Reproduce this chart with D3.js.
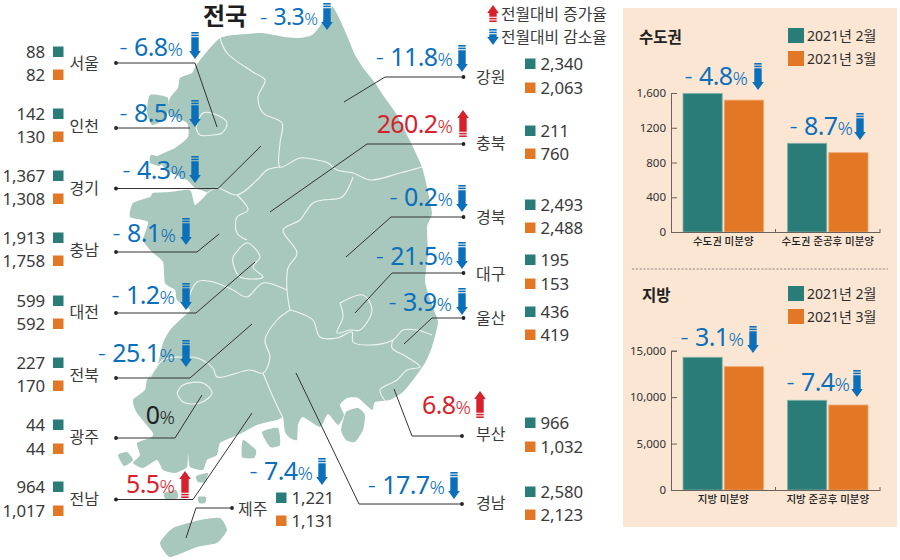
<!DOCTYPE html>
<html><head><meta charset="utf-8">
<script src="https://cdn.jsdelivr.net/npm/d3@7"></script>
<style>
html,body{margin:0;padding:0;background:#fff}
svg{display:block}
text{font-family:"Noto Sans","Noto Sans CJK KR",sans-serif}
</style></head><body>
<svg id="c" width="900" height="560"></svg>
<script>
// ---------- data ----------
const regionNames = ["서울","인천","경기","충남","대전","전북","광주","전남","제주","강원","충북","경북","대구","울산","부산","경남"];
const feb2021 = [88,142,1367,1913,599,227,44,964,1221,2340,211,2493,195,436,966,2580];
const mar2021 = [82,130,1308,1758,592,170,44,1017,1131,2063,760,2488,153,419,1032,2123];
const changePct = [-6.8,-8.5,-4.3,-8.1,-1.2,-25.1,0,5.5,-7.4,-11.8,260.2,-0.2,-21.5,-3.9,6.8,-17.7];
const nationalPct = -3.3;

const seriesNames = ["2021년 2월","2021년 3월"];
const capitalCats = ["수도권 미분양","수도권 준공후 미분양"];
const capitalFeb = [1595,1021];
const capitalMar = [1518,913];
const capitalPct = [-4.8,-8.7];
const capitalTicks = [0,400,800,1200,1600];
const capitalTickLabels = ["0","400","800","1200","1,600"];

const provinceCats = ["지방 미분양","지방 준공후 미분양"];
const provinceFeb = [14290,9660];
const provinceMar = [13280,9150];
const provincePct = [-3.1,-7.4];
const provinceTicks = [0,5000,10000,15000];
const provinceTickLabels = ["0","5,000","10,000","15,000"];

// ---------- layout (callout placement, px) ----------
const calloutLayout = [
 {s:"L",v:[52,75],l:63,p:[183,56],a:[195,32],d:[[116,63],[195,63],[217,127]]},
 {s:"L",v:[114,137],l:126,p:[183,122],a:[195,100],d:[[116,128],[190,128]]},
 {s:"L",v:[176,199],l:188,p:[186,179],a:[195,156],d:[[116,188.5],[218,188.5],[261,146]]},
 {s:"L",v:[238,261],l:250,p:[176,242],a:[186,218],d:[[116,252],[197,252],[219,234]]},
 {s:"L",v:[301,324],l:312,p:[175,304],a:[186,283],d:[[116,313],[196,313],[255,262]]},
 {s:"L",v:[363,386],l:375,p:[175,362],a:[186,340],d:[[116,378],[190,378],[252,324]]},
 {s:"L",v:[425,449],l:437,p:[175,424],a:null,d:[[116,438],[175,438],[202,395]]},
 {s:"L",v:[487,511],l:499,p:[175,493],a:[185,471],d:[[116,499.5],[193,499.5],[252,413]]},
 {s:"J",v:[498,521],l:509,p:[313,480],a:[322,458],d:[[232,508],[196,508],[186,538]]},
 {s:"R",v:[64,88],l:77,p:[453,66],a:[462,45],d:[[463.5,77],[385,77],[344,102]]},
 {s:"R",v:[131,154],l:143,p:[453,133],a:[463,110],d:[[463.5,144],[367,144],[270,212]]},
 {s:"R",v:[205,228],l:217,p:[453,206],a:[462,185],d:[[463.5,217],[391,217],[346,257]]},
 {s:"R",v:[260,284],l:274,p:[453,265],a:[462,242],d:[[463.5,273],[392,273],[355,313]]},
 {s:"R",v:[312,335],l:318,p:[452,311],a:[462,288],d:[[463.5,318],[432,318],[404,344]]},
 {s:"R",v:[423,447],l:434,p:[471,414],a:[480,391],d:[[462,436],[412,436],[394,389]]},
 {s:"R",v:[492,515],l:503,p:[445,494],a:[454,472],d:[[462,504],[359,504],[296,373]]}
];

// ---------- base map geometry (traced, px) ----------
const mainland = [[220,38],[233,35],[262,33],[285,37],[300,38],[312,35],[320,26],[327,12],[333,7],[340,20],[348,38],[355,55],[364,69],[375,83],[385,98],[395,112],[404,129],[413,147],[422,167],[427,187],[432,213],[427,227],[428,253],[425,280],[428,293],[434,310],[438,323],[432,347],[425,363],[413,380],[403,392],[390,400],[375,402],[372,410],[358,398],[347,398],[340,405],[344,415],[338,425],[328,414],[320,427],[303,417],[298,425],[297,440],[290,438],[285,432],[283,418],[277,420],[268,422],[257,425],[240,434],[233,437],[220,443],[217,455],[207,460],[203,470],[190,467],[188,453],[187,467],[175,473],[163,470],[157,460],[143,468],[133,463],[140,455],[137,443],[150,438],[153,433],[137,413],[133,400],[145,390],[147,380],[157,367],[163,343],[170,330],[183,317],[190,310],[177,300],[175,290],[165,283],[163,262],[152,252],[143,240],[148,222],[130,217],[133,203],[150,197],[153,193],[170,192],[190,190],[195,205],[207,193],[195,188],[187,180],[167,170],[157,157],[175,148],[188,137],[187,123],[168,113],[170,98],[178,88],[180,78],[192,73],[195,67],[200,60],[210,48]];
const jeju = [[160,543],[173,528],[200,520],[220,518],[227,530],[217,543],[197,547],[170,557]];
const islands = [
 [[150,95],[168,98],[166,118],[152,125],[147,112]],
 [[151,155],[162,158],[160,166],[150,163]],
 [[346,412],[358,408],[365,415],[363,430],[355,442],[346,440],[341,430]],
 [[262,432],[278,428],[280,445],[270,447]],
 [[243,440],[256,450],[254,458],[242,457]],
 [[133,400],[143,396],[146,405],[137,412]],
 [[118,455],[127,452],[133,460],[124,466]],
 [[196,476],[208,473],[205,482],[198,482]],
 [[164,493],[176,490],[178,498],[166,500]],
 [[198,497],[206,497],[205,503],[199,503]]
];
const borders = [
 [[196,128],[203,113],[217,115],[227,123],[222,133],[213,135],[200,135],[196,128]],
 [[220,38],[227,53],[253,72],[265,80],[258,97],[263,113],[282,123],[280,143],[280,167],[300,158],[317,160],[328,163],[337,170],[353,173],[370,180],[400,173],[422,167]],
 [[207,193],[217,188],[237,195],[257,180],[267,170],[280,167]],
 [[237,195],[248,210],[237,217],[237,233],[247,240]],
 [[233,257],[247,243],[260,257],[253,267],[263,277],[240,277],[233,263],[233,257]],
 [[353,177],[342,197],[323,200],[313,203],[305,213],[300,220],[283,230],[297,253],[288,268],[287,290],[290,310]],
 [[183,317],[197,282],[213,282],[233,290],[247,297],[263,283],[287,290]],
 [[290,310],[300,313],[313,320],[320,337],[337,338],[352,332],[353,342],[370,345],[393,340],[403,330],[417,330],[432,335]],
 [[340,303],[363,295],[372,310],[360,330],[350,330],[337,333],[343,317],[340,303]],
 [[393,340],[392,348],[407,357],[420,367],[407,370],[397,380],[380,390],[387,403]],
 [[290,310],[277,320],[265,340],[270,357],[263,373],[250,370],[217,377],[213,368],[197,358],[180,357],[163,360],[150,378]],
 [[263,373],[273,397],[283,418]],
 [[177,393],[183,385],[203,383],[212,393],[200,403],[183,402],[177,393]]
];

// ---------- styles ----------
const teal="#2a7c79", orange="#e27826", blue="#0b6fba", red="#d7222d", mapFill="#a9c8bd", ink="#3a3a3a";

const svg=d3.select("#c");
const line=d3.line();
const smooth=d3.line().curve(d3.curveCardinalClosed.tension(0.45));
const soft=d3.line().curve(d3.curveCatmullRom.alpha(0.5));

// map
const mapG=svg.append("g");
mapG.selectAll("path.land").data([mainland,jeju,...islands]).join("path").attr("class","land")
  .attr("d",d=>smooth(d)).attr("fill",mapFill);
mapG.selectAll("path.border").data(borders).join("path").attr("class","border")
  .attr("d",d=>soft(d)).attr("fill","none").attr("stroke","#eef5f1").attr("stroke-width",1.1);

function arrow(g,x,y,up,color,h=27){
  const a=g.append("g").attr("transform",up?`translate(${x},${y+h}) scale(1,-1)`:`translate(${x},${y})`);
  const w=3.7,hw=5.8;
  a.append("rect").attr("x",-w).attr("y",0).attr("width",2*w).attr("height",1.6).attr("fill",color);
  a.append("rect").attr("x",-w).attr("y",2.6).attr("width",2*w).attr("height",1.6).attr("fill",color);
  a.append("path").attr("d",line([[-w,5.2],[w,5.2],[w,h-8],[hw,h-8],[0,h],[-hw,h-8],[-w,h-8]])+"Z").attr("fill",color);
}
function pctText(g,x,y,v,size=25,pctSize=19){
  const col=v<0?blue:v>0?red:"#222";
  const t=g.append("text").attr("x",x).attr("y",y).attr("text-anchor","end").attr("fill",col)
    .attr("font-weight",400);
  if(v<0) t.append("tspan").attr("font-size",size).attr("font-weight",300).text("- ");
  t.append("tspan").attr("font-size",size).attr("letter-spacing",-0.6).text(v===0?"0":Math.abs(v).toFixed(1));
  t.append("tspan").attr("font-size",pctSize).attr("font-weight",300).text("%");
}

// callouts
const fmt=d3.format(",");
const callG=svg.append("g");
regionNames.forEach((name,i)=>{
  const L=calloutLayout[i], g=callG.append("g");
  g.append("path").attr("d",line(L.d)).attr("fill","none").attr("stroke","#333").attr("stroke-width",1);
  g.append("circle").attr("cx",L.d[0][0]).attr("cy",L.d[0][1]).attr("r",1.9).attr("fill","#222");
  pctText(g,L.p[0],L.p[1],changePct[i]);
  if(L.a) arrow(g,L.a[0],L.a[1],changePct[i]>0,changePct[i]>0?red:blue);
  const labelX=L.s==="L"?69.5:L.s==="J"?238:476, swX=L.s==="L"?53:L.s==="J"?276:525;
  g.append("text").attr("x",labelX).attr("y",L.l).attr("dy","0.36em").attr("font-size",16)
    .attr("fill",ink).text(name);
  [feb2021[i],mar2021[i]].forEach((v,k)=>{
    g.append("rect").attr("x",swX).attr("y",L.v[k]-5.5).attr("width",10.5).attr("height",10.5)
      .attr("fill",k?orange:teal);
    const t=g.append("text").attr("y",L.v[k]).attr("dy","0.36em").attr("font-size",16.8).attr("letter-spacing",-0.1).attr("fill",ink).text(fmt(v));
    if(L.s==="L") t.attr("x",45).attr("text-anchor","end"); else t.attr("x",swX+15.5);
  });
});

// national title + legend
svg.append("text").attr("x",203).attr("y",25).attr("font-size",24).attr("font-weight",700)
  .attr("fill","#1e1e1e").text("전국");
pctText(svg,318,25,nationalPct,23,17);
arrow(svg,327,3,false,blue);
arrow(svg,493,5,true,red,17);
arrow(svg,493,29,false,blue,16);
svg.append("text").attr("x",501).attr("y",14).attr("dy","0.36em").attr("font-size",15.8).attr("fill",ink).text("전월대비 증가율");
svg.append("text").attr("x",501).attr("y",37).attr("dy","0.36em").attr("font-size",15.8).attr("fill",ink).text("전월대비 감소율");

// right panel
svg.append("rect").attr("x",623).attr("y",8).attr("width",274).attr("height",519).attr("fill","#fae6d3");
svg.append("line").attr("x1",632).attr("x2",888).attr("y1",269).attr("y2",269)
  .attr("stroke","#b7a5a5").attr("stroke-width",1.5).attr("stroke-dasharray","2.2 1.6");

function panel(o){
  const g=svg.append("g");
  const x0=d3.scaleBand().domain(o.cats).range([671,880]);
  const x1=d3.scaleBand().domain(seriesNames).range([12,92.5]).paddingInner(0.05);
  const y=d3.scaleLinear().domain([0,o.max]).range([o.y0,o.yTop]);

  g.append("text").attr("x",o.titleX).attr("y",o.titleY).attr("font-size",15.5).attr("font-weight",700)
    .attr("fill","#222").text(o.title);
  seriesNames.forEach((s,k)=>{
    const ly=o.legY+23*k;
    g.append("rect").attr("x",788).attr("y",ly).attr("width",16).attr("height",15).attr("fill",k?orange:teal);
    g.append("text").attr("x",807).attr("y",ly+7.5).attr("dy","0.36em").attr("font-size",14).attr("fill","#2d2d2d").text(s);
  });

  o.cats.forEach((c,i)=>{
    seriesNames.forEach((s,k)=>{
      const v=(k?o.mar:o.feb)[i];
      g.append("rect").attr("x",x0(c)+x1(s)).attr("y",y(v)).attr("width",x1.bandwidth())
        .attr("height",y(0)-y(v)).attr("fill",k?orange:teal)
        .attr("stroke",k?"#f0a66c":"#7fb3a8").attr("stroke-width",0.8);
    });
    pctText(g,o.pctAt[i][0],o.pctAt[i][1],o.pct[i]);
    arrow(g,o.arrowAt[i][0],o.arrowAt[i][1],false,blue);
  });

  const ay=d3.axisLeft(y).tickValues(o.ticks).tickSize(-6).tickPadding(5)
    .tickFormat(d=>o.tickLabels[o.ticks.indexOf(d)]);
  const yg=g.append("g").attr("transform","translate(671,0)").call(ay);
  yg.selectAll("text").attr("font-size",11.5).attr("fill","#333");
  yg.selectAll("line,path").attr("stroke","#6b625b");

  const ax=d3.axisBottom(x0).tickSize(0).tickPadding(6);
  const xg=g.append("g").attr("transform",`translate(0,${o.y0})`).call(ax);
  xg.select("path").attr("stroke","#6b625b");
  xg.selectAll("text").attr("font-size",10.5).attr("font-weight",500).attr("fill","#222");
  g.selectAll("line.sep").data([775.5,880]).join("line").attr("class","sep")
    .attr("x1",d=>d).attr("x2",d=>d).attr("y1",o.y0-3).attr("y2",o.y0).attr("stroke","#6b625b");
}
panel({title:"수도권",titleX:639,titleY:43,legY:28,cats:capitalCats,feb:capitalFeb,mar:capitalMar,pct:capitalPct,
  max:1600,y0:232,yTop:93,ticks:capitalTicks,tickLabels:capitalTickLabels,
  pctAt:[[748,85],[853,135]],arrowAt:[[758,63],[860,113]]});
panel({title:"지방",titleX:642,titleY:301,legY:286,cats:provinceCats,feb:provinceFeb,mar:provinceMar,pct:provincePct,
  max:15000,y0:490,yTop:350.7,ticks:provinceTicks,tickLabels:provinceTickLabels,
  pctAt:[[744,346],[850,391]],arrowAt:[[753,326],[857,370]]});
</script>
</body></html>
